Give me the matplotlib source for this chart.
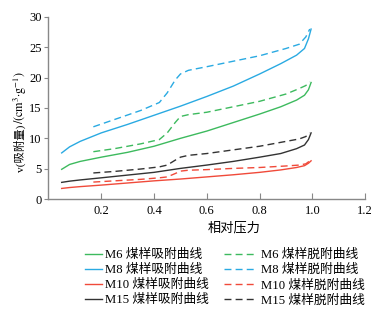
import matplotlib
matplotlib.use('Agg')
import matplotlib.pyplot as plt

plt.rcParams['font.family'] = ['Liberation Serif', 'Noto Sans CJK SC', 'DejaVu Sans']
plt.rcParams['mathtext.fontset'] = 'stix'

# 吸附曲线
x_ads = [0.05, 0.08, 0.12, 0.2, 0.3, 0.4, 0.5, 0.6, 0.7, 0.8, 0.88, 0.94, 0.97, 0.985, 0.995]
m6_ads = [4.9, 5.7, 6.2, 6.9, 7.7, 8.7, 10.0, 11.2, 12.6, 14.0, 15.2, 16.3, 17.1, 18.0, 19.2]
m8_ads = [7.6, 8.6, 9.5, 10.9, 12.3, 13.8, 15.3, 16.9, 18.6, 20.6, 22.3, 23.7, 24.8, 26.4, 28.0]
m10_ads = [1.75, 1.9, 2.05, 2.3, 2.65, 3.0, 3.3, 3.65, 4.0, 4.4, 4.8, 5.2, 5.5, 5.9, 6.3]
m15_ads = [2.75, 2.95, 3.15, 3.5, 3.95, 4.4, 5.05, 5.6, 6.2, 6.9, 7.5, 8.3, 8.9, 9.8, 10.9]

# 脱附曲线
x_des = [0.17, 0.25, 0.35, 0.42, 0.45, 0.48, 0.5, 0.53, 0.6, 0.7, 0.8, 0.9, 0.95, 0.975, 0.99]
m6_des = [7.8, 8.3, 9.1, 9.8, 10.9, 12.6, 13.6, 13.9, 14.3, 15.2, 16.1, 17.3, 18.2, 18.7, 19.3]
m8_des = [11.9, 13.1, 14.6, 15.9, 17.5, 19.6, 20.6, 21.2, 21.8, 22.7, 23.6, 24.8, 25.5, 26.7, 28.0]
m10_des = [2.8, 3.0, 3.25, 3.5, 3.65, 4.2, 4.6, 4.75, 4.85, 5.05, 5.2, 5.45, 5.6, 5.8, 6.3]
m15_des = [4.3, 4.55, 4.95, 5.3, 5.6, 6.4, 6.9, 7.2, 7.5, 8.1, 8.7, 9.5, 9.9, 10.3, 10.9]

names = ['M6', 'M8', 'M10', 'M15']
colors = ['#3dba5e', '#2aaae2', '#f04a3a', '#333333']
ads = [m6_ads, m8_ads, m10_ads, m15_ads]
des = [m6_des, m8_des, m10_des, m15_des]

fig = plt.figure(figsize=(3.91, 3.13), dpi=100)
ax = fig.add_axes([0.124, 0.364, 0.81, 0.582])

h_ads, h_des = [], []
for name, c, ya, yd in zip(names, colors, ads, des):
    l1, = ax.plot(x_ads, ya, color=c, lw=1.0, label=name + ' 煤样吸附曲线')
    l2, = ax.plot(x_des, yd, color=c, lw=1.0, dashes=(5, 3), label=name + ' 煤样脱附曲线')
    h_ads.append(l1)
    h_des.append(l2)

ax.set_xlim(0, 1.2)
ax.set_ylim(0, 30)
ax.set_xticks([0.2, 0.4, 0.6, 0.8, 1.0, 1.2])
ax.set_xticklabels(['0.2', '0.4', '0.6', '0.8', '1.0', '1.2'])
ax.set_yticks([0, 5, 10, 15, 20, 25, 30])
ax.spines['top'].set_visible(False)
ax.spines['right'].set_visible(False)
for s in ['left', 'bottom']:
    ax.spines[s].set_color('#888888')
    ax.spines[s].set_linewidth(1.0)
ax.tick_params(axis='x', direction='in', length=4, color='#888888', labelsize=9, pad=4)
ax.tick_params(axis='y', direction='out', length=3, color='#888888', labelsize=9, pad=2)

ax.set_xlabel('相对压力', fontsize=9.5)
ax.xaxis.set_label_coords(0.586, -0.128)

# y轴标题分两段：中文部分 + 单位（上标用mathtext）
t1 = fig.text(0.052, 0.451, 'v(吸附量)', rotation=90, ha='center', va='bottom', fontsize=8.2)
fig.canvas.draw()
bb = t1.get_window_extent()
y_next = bb.y1 / fig.bbox.height
fig.text(0.052, y_next, r'/(cm$^{3}$·g$^{-1}$)', rotation=90, ha='center', va='bottom',
         fontsize=8.7, family='STIXGeneral')

leg1 = fig.legend(handles=h_ads, loc='upper left', bbox_to_anchor=(0.2, 0.225),
                  frameon=False, fontsize=9.2, handlelength=1.35, handletextpad=0.25,
                  labelspacing=0.24, borderpad=0)
leg2 = fig.legend(handles=h_des, loc='upper left', bbox_to_anchor=(0.557, 0.225),
                  frameon=False, fontsize=9.2, handlelength=2.6, handletextpad=0.25,
                  labelspacing=0.24, borderpad=0)

fig.savefig('out.png', dpi=100)
